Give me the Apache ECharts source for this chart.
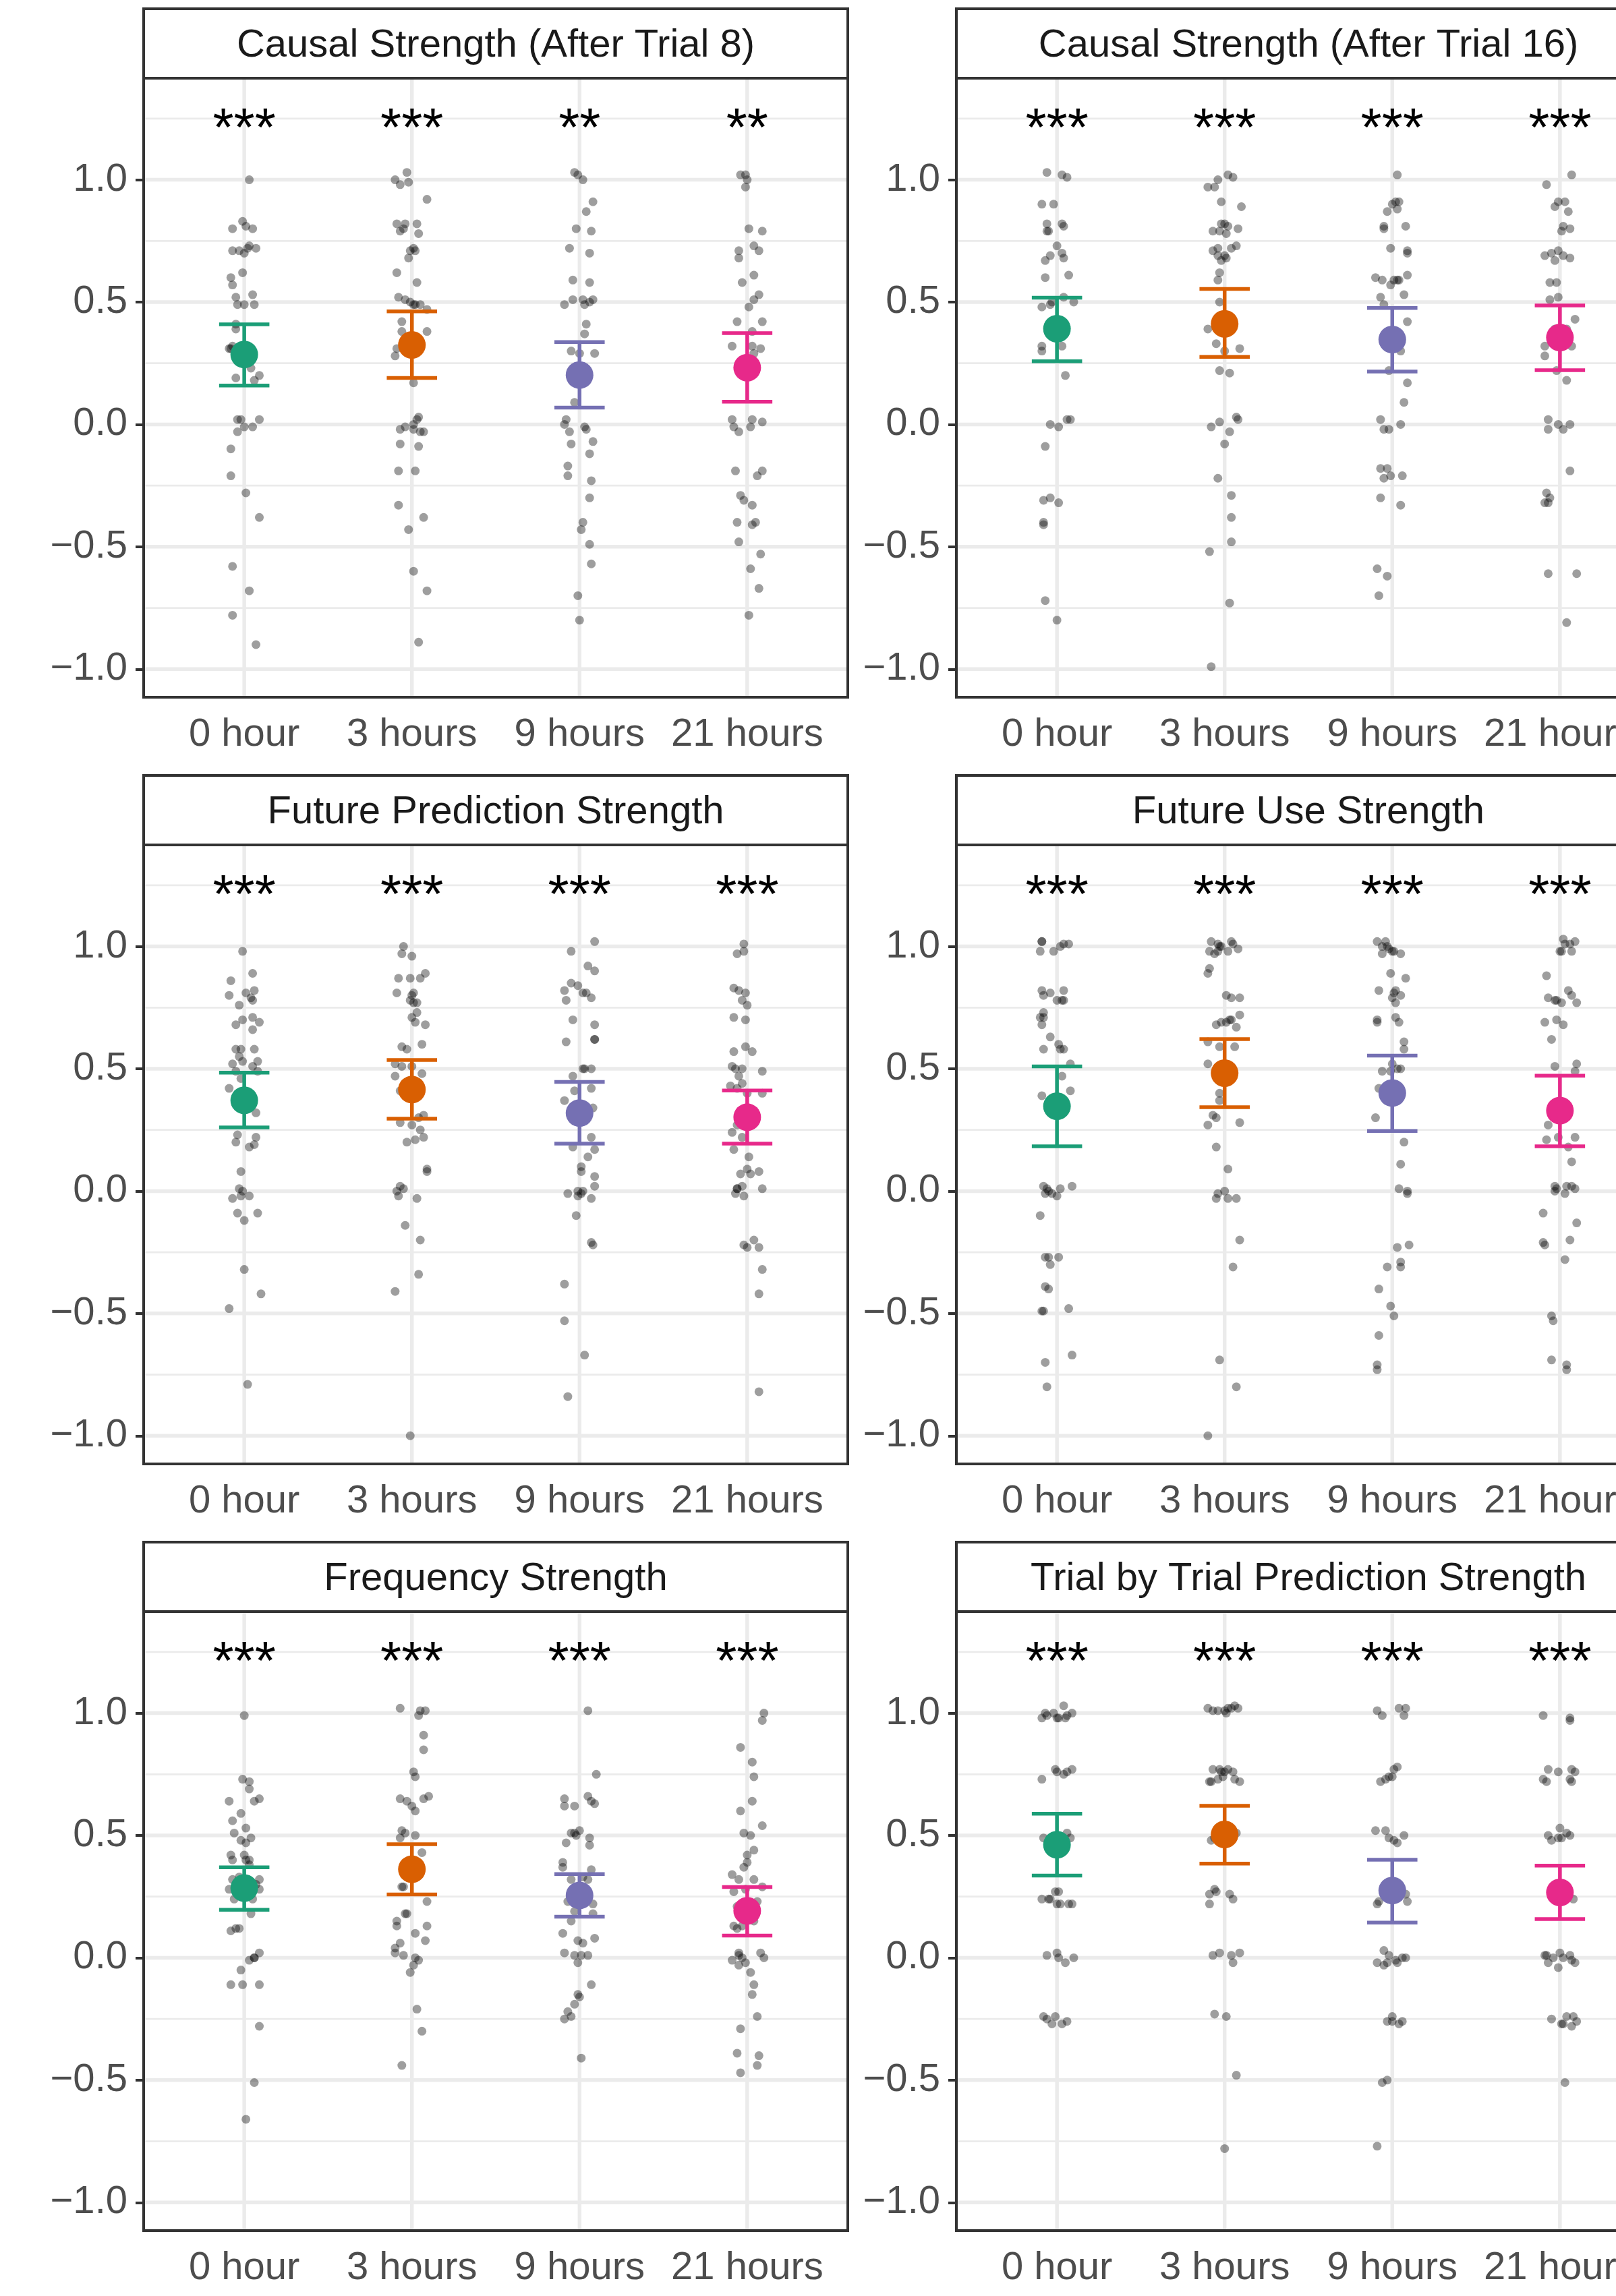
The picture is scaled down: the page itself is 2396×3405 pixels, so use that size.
<!DOCTYPE html>
<html><head><meta charset="utf-8">
<script src="https://cdn.jsdelivr.net/npm/echarts@6/dist/echarts.min.js"></script>
<style>html,body{margin:0;padding:0;background:#fff;overflow:hidden}#c{width:2396px;height:3405px}</style>
</head><body><div id="c"></div>
<script>
// ---------------- DATA ----------------
const categories = ['0 hour', '3 hours', '9 hours', '21 hours'];
const panelTitles = ['Causal Strength (After Trial 8)', 'Causal Strength (After Trial 16)', 'Future Prediction Strength', 'Future Use Strength', 'Frequency Strength', 'Trial by Trial Prediction Strength'];
const yTicks = [-1, -0.5, 0, 0.5, 1];
const yMinorTicks = [-0.75, -0.25, 0.25, 0.75, 1.25];
const palette = ['#1B9E77', '#D95F02', '#7570B3', '#E7298A'];

// jittered participant points: [horizontal jitter offset, value]
const c8_0h = [[0.03,1.00],[-0.01,0.83],[-0.07,0.80],[0.01,0.81],[0.05,0.80],[-0.07,0.71],[-0.03,0.71],[0,0.70],[0.02,0.72],[0.03,0.73],[0.07,0.72],[-0.01,0.62],[-0.08,0.60],[-0.07,0.57],[-0.05,0.52],[0.05,0.53],[-0.04,0.49],[0,0.49],[0.06,0.49],[-0.05,0.41],[-0.05,0.39],[-0.09,0.31],[-0.08,0.31],[-0.07,0.32],[0.04,0.23],[0.09,0.20],[-0.05,0.19],[0.06,0.18],[-0.04,0.02],[-0.02,0.02],[0.09,0.02],[0,-0.01],[0.05,-0.01],[-0.04,-0.03],[-0.08,-0.10],[-0.08,-0.21],[0.01,-0.28],[0.09,-0.38],[-0.07,-0.58],[0.03,-0.68],[-0.07,-0.78],[0.07,-0.90]];
const c8_3h = [[-0.03,1.03],[-0.10,1.00],[-0.07,0.98],[-0.02,0.99],[0.09,0.92],[-0.09,0.82],[-0.04,0.82],[0.03,0.82],[-0.07,0.79],[-0.05,0.80],[0.04,0.78],[-0.01,0.71],[0.01,0.72],[0.02,0.71],[-0.02,0.68],[-0.09,0.62],[0.03,0.58],[-0.08,0.52],[-0.04,0.51],[-0.01,0.50],[0.01,0.49],[0.02,0.49],[0.05,0.49],[0.09,0.47],[-0.06,0.42],[-0.06,0.38],[0.09,0.38],[-0.09,0.31],[-0.10,0.28],[0.01,0.17],[0.04,0.03],[0.03,0.02],[0.01,0.00],[-0.04,-0.01],[-0.07,-0.02],[0.01,-0.02],[0.05,-0.03],[0.07,-0.03],[-0.07,-0.08],[0.04,-0.09],[-0.08,-0.19],[0.02,-0.19],[-0.08,-0.33],[0.07,-0.38],[-0.02,-0.43],[0.01,-0.60],[0.09,-0.68],[0.04,-0.89]];
const c8_9h = [[-0.03,1.03],[-0.01,1.02],[0.02,1.00],[0.08,0.91],[0.04,0.87],[-0.02,0.80],[0.07,0.79],[-0.06,0.72],[0.06,0.70],[-0.04,0.59],[0.06,0.58],[-0.09,0.49],[-0.04,0.51],[0.02,0.51],[0.03,0.49],[0.06,0.50],[0.08,0.51],[0.04,0.41],[0.03,0.37],[-0.05,0.30],[0,0.29],[0.09,0.29],[-0.03,0.09],[-0.08,0.02],[-0.09,0.00],[-0.06,-0.03],[0.03,-0.01],[0.04,-0.02],[-0.05,-0.08],[0.08,-0.07],[0.06,-0.12],[-0.07,-0.17],[-0.07,-0.21],[0.07,-0.23],[0.06,-0.30],[0.02,-0.40],[0.01,-0.43],[0.06,-0.49],[0.07,-0.57],[-0.01,-0.70],[0,-0.80]];
const c8_21h = [[-0.04,1.02],[-0.01,1.02],[0,1.00],[-0.01,0.97],[0.01,0.80],[0.09,0.79],[-0.05,0.71],[-0.05,0.68],[0.04,0.73],[0.07,0.71],[0.04,0.61],[-0.03,0.58],[0.07,0.53],[0.04,0.51],[0.01,0.48],[0.09,0.42],[-0.06,0.42],[0.03,0.38],[-0.09,0.32],[0.03,0.32],[0.08,0.31],[0.04,0.29],[-0.09,0.02],[-0.08,-0.01],[-0.05,-0.03],[0.03,0.02],[0.09,0.01],[0.02,-0.01],[-0.07,-0.19],[0.09,-0.19],[0.06,-0.21],[-0.04,-0.29],[-0.02,-0.31],[0.03,-0.33],[0.05,-0.40],[-0.06,-0.40],[0.03,-0.41],[-0.05,-0.48],[0.08,-0.53],[0.02,-0.59],[0.07,-0.67],[0.01,-0.78]];

const c16_0h = [[-0.06,1.03],[0.03,1.02],[0.06,1.01],[-0.09,0.90],[-0.02,0.90],[-0.06,0.82],[0.03,0.82],[0.04,0.81],[-0.06,0.79],[-0.05,0.79],[0,0.73],[0.03,0.70],[0.04,0.68],[-0.07,0.67],[-0.04,0.69],[0.07,0.61],[-0.07,0.60],[0.04,0.52],[-0.03,0.50],[0.10,0.50],[-0.09,0.48],[-0.04,0.49],[0.03,0.32],[-0.09,0.32],[-0.09,0.30],[0.05,0.20],[0.06,0.02],[0.08,0.02],[-0.04,0.00],[0.01,-0.01],[-0.07,-0.09],[-0.08,-0.31],[-0.04,-0.30],[0.01,-0.32],[-0.08,-0.40],[-0.08,-0.41],[-0.07,-0.72],[0,-0.80]];
const c16_3h = [[0.02,1.02],[0.05,1.01],[-0.04,1.00],[-0.10,0.97],[-0.06,0.97],[-0.02,0.91],[0.10,0.89],[-0.02,0.82],[0,0.82],[0.02,0.81],[-0.07,0.79],[-0.03,0.79],[0.01,0.78],[0.08,0.80],[-0.07,0.71],[-0.04,0.72],[0.04,0.72],[0.07,0.73],[-0.04,0.69],[-0.02,0.67],[0,0.69],[0.01,0.68],[-0.03,0.62],[-0.04,0.59],[-0.03,0.50],[-0.10,0.39],[-0.05,0.33],[0,0.30],[0.09,0.31],[-0.03,0.22],[0.03,0.21],[0.07,0.03],[0.08,0.02],[-0.03,0.01],[-0.08,-0.01],[0.03,-0.03],[0,-0.08],[-0.04,-0.22],[0.04,-0.29],[0.04,-0.38],[0.04,-0.48],[-0.09,-0.52],[0.03,-0.73],[-0.08,-0.99]];
const c16_9h = [[0.03,1.02],[0,0.90],[0.02,0.91],[0.04,0.91],[-0.03,0.87],[0.03,0.88],[-0.05,0.81],[-0.05,0.80],[0.08,0.81],[-0.01,0.72],[0.09,0.71],[0.09,0.70],[-0.10,0.60],[-0.06,0.59],[-0.01,0.57],[0.01,0.59],[0.03,0.59],[0.04,0.59],[0.09,0.61],[-0.07,0.52],[0.07,0.53],[-0.05,0.49],[0.09,0.42],[0.05,0.30],[-0.02,0.22],[0.09,0.17],[0.07,0.09],[-0.07,0.02],[0.05,0.00],[-0.05,-0.02],[-0.02,-0.02],[-0.07,-0.18],[-0.03,-0.18],[-0.05,-0.22],[-0.01,-0.21],[0.06,-0.21],[-0.07,-0.30],[0.05,-0.33],[-0.09,-0.59],[-0.03,-0.62],[-0.08,-0.70]];
const c16_21h = [[0.07,1.02],[-0.08,0.98],[-0.01,0.91],[0.03,0.91],[-0.03,0.89],[0.05,0.87],[0.02,0.81],[0.06,0.80],[0.01,0.79],[-0.09,0.69],[-0.05,0.70],[-0.01,0.71],[0.02,0.69],[0.06,0.68],[-0.03,0.67],[-0.06,0.58],[-0.02,0.58],[-0.01,0.52],[-0.06,0.51],[0.09,0.43],[-0.03,0.39],[0.04,0.39],[-0.09,0.32],[0.07,0.32],[-0.09,0.28],[-0.02,0.22],[0.04,0.18],[-0.07,0.02],[-0.01,0.00],[0.06,0.00],[-0.07,-0.02],[0.02,-0.02],[0.06,-0.19],[-0.08,-0.28],[-0.06,-0.30],[-0.09,-0.32],[-0.07,-0.32],[-0.07,-0.61],[0.10,-0.61],[0.04,-0.81]];

const fp_0h = [[-0.01,0.98],[0.05,0.89],[-0.08,0.86],[0.01,0.81],[0.06,0.82],[-0.09,0.80],[0.04,0.79],[0.05,0.78],[-0.03,0.76],[-0.01,0.70],[0.05,0.71],[0.09,0.69],[-0.05,0.68],[0.05,0.66],[-0.05,0.58],[-0.02,0.58],[0.06,0.58],[-0.03,0.55],[-0.07,0.52],[-0.01,0.53],[0.08,0.53],[0.05,0.51],[-0.05,0.49],[0.08,0.49],[-0.02,0.46],[-0.09,0.42],[0.07,0.32],[-0.04,0.23],[0.07,0.22],[-0.05,0.20],[0.06,0.19],[0.03,0.18],[-0.02,0.08],[-0.03,0.01],[-0.01,0.00],[-0.07,-0.03],[-0.02,-0.02],[0.03,-0.02],[-0.04,-0.09],[0.08,-0.09],[0,-0.12],[0,-0.32],[0.10,-0.42],[-0.09,-0.48],[0.02,-0.79]];
const fp_3h = [[-0.05,1.00],[-0.06,0.97],[0,0.96],[0.08,0.89],[-0.08,0.87],[-0.01,0.87],[0.05,0.87],[0.01,0.81],[-0.09,0.81],[0,0.80],[-0.01,0.78],[0.01,0.77],[0.03,0.77],[0.03,0.73],[0,0.71],[0.08,0.68],[0.02,0.69],[-0.06,0.59],[-0.03,0.58],[0.06,0.60],[-0.10,0.52],[-0.06,0.51],[0,0.51],[0.06,0.48],[-0.10,0.47],[-0.07,0.41],[0.04,0.30],[0.07,0.31],[-0.07,0.28],[0,0.27],[0.05,0.25],[0.07,0.22],[0.02,0.21],[-0.03,0.20],[0.09,0.09],[0.09,0.08],[-0.07,0.02],[-0.05,0.01],[-0.09,0.00],[-0.08,-0.02],[0.03,-0.03],[-0.04,-0.14],[0.05,-0.20],[0.04,-0.34],[-0.10,-0.41],[-0.01,-1.00]];
const fp_9h = [[0.09,1.02],[-0.05,0.98],[0.05,0.92],[0.09,0.90],[-0.05,0.85],[-0.01,0.84],[-0.09,0.82],[0.02,0.81],[0.04,0.81],[0.07,0.79],[-0.08,0.78],[-0.04,0.70],[0.09,0.68],[-0.08,0.61],[0.09,0.62],[0.09,0.62],[0.02,0.50],[0.07,0.50],[0.03,0.50],[-0.04,0.47],[0.07,0.42],[-0.03,0.41],[-0.09,0.37],[0.08,0.34],[-0.03,0.29],[0.07,0.22],[0.09,0.17],[-0.04,0.18],[0.05,0.14],[0.01,0.10],[0.01,0.08],[0.09,0.06],[0.09,0.02],[-0.01,0.00],[0.02,0.00],[-0.07,-0.01],[-0.01,-0.02],[0.01,-0.01],[0.07,-0.03],[-0.02,-0.10],[0.07,-0.21],[0.08,-0.22],[-0.09,-0.38],[-0.09,-0.53],[0.03,-0.67],[-0.07,-0.84]];
const fp_21h = [[-0.02,1.01],[-0.06,0.97],[-0.02,0.98],[-0.08,0.83],[-0.05,0.82],[-0.01,0.81],[-0.03,0.78],[0,0.76],[-0.08,0.71],[-0.01,0.70],[-0.01,0.59],[-0.08,0.57],[0.03,0.57],[-0.09,0.51],[-0.07,0.50],[-0.03,0.50],[0.09,0.49],[-0.05,0.47],[-0.10,0.43],[-0.03,0.44],[-0.06,0.42],[0,0.40],[0.09,0.40],[-0.06,0.27],[-0.09,0.24],[-0.03,0.22],[-0.08,0.17],[0.01,0.14],[0,0.09],[0.02,0.07],[-0.04,0.07],[0.07,0.08],[-0.06,0.01],[-0.06,0.01],[-0.03,0.02],[-0.07,-0.01],[0.09,0.01],[-0.02,-0.02],[0.04,-0.20],[-0.02,-0.22],[0,-0.23],[0.07,-0.23],[0.09,-0.32],[0.07,-0.42],[0.07,-0.82]];

const fu_0h = [[-0.09,1.02],[-0.09,1.02],[-0.10,0.98],[-0.02,0.98],[0.02,1.00],[0.04,1.01],[0.07,1.01],[-0.09,0.82],[-0.04,0.81],[0.04,0.82],[-0.08,0.80],[0,0.78],[0.03,0.78],[0.04,0.78],[-0.08,0.73],[-0.10,0.71],[-0.08,0.71],[-0.09,0.68],[-0.04,0.63],[0.01,0.60],[0.02,0.58],[0.04,0.58],[-0.08,0.58],[0.08,0.52],[0.03,0.47],[0.08,0.41],[-0.09,0.39],[-0.08,0.02],[-0.06,0.01],[-0.05,0.00],[0.02,0.01],[0.09,0.02],[-0.07,-0.01],[-0.03,-0.01],[0,-0.02],[-0.10,-0.10],[-0.07,-0.27],[-0.05,-0.27],[0.01,-0.27],[-0.04,-0.30],[-0.07,-0.39],[-0.05,-0.40],[-0.09,-0.49],[-0.08,-0.49],[0.07,-0.48],[0.09,-0.67],[-0.07,-0.70],[-0.06,-0.80]];
const fu_3h = [[-0.08,1.02],[-0.04,1.01],[-0.02,1.00],[0.04,1.02],[0.05,1.01],[-0.03,1.00],[-0.09,0.98],[-0.06,0.97],[-0.04,0.98],[0.02,0.98],[0.08,0.99],[-0.09,0.91],[-0.10,0.89],[0.01,0.80],[0.04,0.79],[0.09,0.79],[0.09,0.72],[0.04,0.70],[0.01,0.69],[0.03,0.70],[-0.02,0.69],[-0.05,0.68],[0.07,0.67],[-0.10,0.61],[-0.03,0.59],[0.06,0.59],[-0.10,0.52],[-0.03,0.40],[-0.03,0.37],[0.09,0.28],[-0.07,0.31],[-0.05,0.30],[-0.10,0.27],[-0.05,0.18],[0.02,0.09],[0,0.00],[-0.04,-0.01],[-0.05,-0.03],[0.02,-0.03],[0.07,-0.03],[0.09,-0.20],[0.05,-0.31],[-0.03,-0.69],[0.07,-0.80],[-0.10,-1.00]];
const fu_9h = [[-0.09,1.02],[-0.04,1.02],[-0.06,1.00],[-0.03,1.00],[-0.06,0.97],[-0.02,0.99],[0,0.98],[0.01,0.98],[0.05,0.97],[-0.01,0.89],[0.08,0.87],[-0.08,0.82],[0.01,0.81],[0.02,0.82],[0.05,0.80],[0,0.79],[0.02,0.77],[-0.09,0.70],[-0.09,0.69],[0.02,0.71],[0.04,0.69],[0.07,0.61],[0.07,0.58],[0,0.52],[-0.06,0.49],[-0.01,0.49],[0.03,0.50],[0.05,0.50],[-0.08,0.42],[-0.10,0.30],[0.07,0.20],[0.05,0.11],[0.04,0.01],[0.09,0.00],[0.09,-0.01],[0.03,-0.23],[0.10,-0.22],[0.05,-0.29],[0.05,-0.31],[-0.03,-0.31],[-0.08,-0.40],[-0.01,-0.47],[0.01,-0.51],[-0.08,-0.59],[-0.09,-0.71],[-0.09,-0.73]];
const fu_21h = [[0.02,1.03],[0.03,1.01],[0.06,1.01],[0.09,1.02],[0,0.98],[0.01,0.98],[0.07,0.98],[-0.08,0.88],[0.05,0.82],[0.07,0.80],[-0.07,0.79],[-0.03,0.78],[-0.02,0.78],[0.01,0.77],[0.10,0.77],[-0.09,0.69],[-0.02,0.70],[0.02,0.68],[-0.05,0.62],[-0.03,0.51],[0.10,0.52],[0.09,0.49],[-0.07,0.27],[-0.08,0.21],[-0.01,0.22],[0.09,0.22],[0.05,0.18],[0.07,0.12],[-0.03,0.02],[-0.02,0.01],[0.04,0.02],[0.07,0.02],[0.09,0.01],[-0.03,0.00],[0.03,-0.01],[-0.10,-0.09],[0.10,-0.13],[-0.10,-0.21],[-0.09,-0.22],[0.06,-0.20],[0.03,-0.28],[-0.05,-0.51],[-0.04,-0.53],[-0.05,-0.69],[0.04,-0.71],[0.04,-0.73]];

const fr_0h = [[0,0.99],[-0.01,0.73],[0.03,0.72],[0.03,0.69],[-0.09,0.64],[0.09,0.65],[0.06,0.64],[-0.02,0.59],[-0.07,0.56],[0.01,0.53],[-0.06,0.51],[-0.02,0.48],[0.04,0.49],[0.01,0.47],[-0.08,0.42],[0,0.42],[-0.07,0.40],[0.01,0.40],[0.03,0.40],[0.03,0.38],[-0.07,0.32],[-0.03,0.33],[0.09,0.32],[0.07,0.30],[-0.09,0.28],[0.09,0.28],[-0.06,0.24],[0.05,0.24],[0.04,0.18],[-0.08,0.11],[-0.05,0.12],[-0.03,0.12],[0.06,0.00],[0.09,0.02],[0.03,-0.01],[0.06,0.00],[-0.02,-0.05],[-0.08,-0.11],[-0.01,-0.11],[0.09,-0.11],[0.09,-0.28],[0.06,-0.51],[0.01,-0.66]];
const fr_3h = [[-0.07,1.02],[0.04,0.99],[0.05,1.01],[0.08,1.01],[0.07,0.91],[0.07,0.85],[0.01,0.76],[0.02,0.74],[-0.07,0.65],[-0.03,0.64],[0.07,0.65],[0.10,0.66],[0,0.62],[0.02,0.60],[-0.06,0.52],[-0.04,0.51],[0.02,0.50],[-0.07,0.49],[0.06,0.43],[-0.06,0.29],[-0.05,0.29],[0.09,0.23],[-0.04,0.18],[-0.03,0.18],[-0.09,0.15],[-0.09,0.13],[0.09,0.13],[0.02,0.10],[-0.07,0.06],[-0.10,0.04],[0.08,0.07],[-0.10,0.02],[-0.05,0.01],[0.02,0.00],[0.04,-0.01],[0.01,-0.03],[-0.01,-0.06],[0.03,-0.21],[0.06,-0.30],[-0.06,-0.44]];
const fr_9h = [[0.05,1.01],[0.10,0.75],[-0.09,0.65],[0.05,0.66],[-0.09,0.62],[-0.03,0.62],[0.07,0.64],[0.09,0.63],[-0.05,0.51],[-0.02,0.50],[0,0.52],[-0.03,0.51],[-0.08,0.47],[0.06,0.49],[0.06,0.46],[-0.10,0.39],[-0.10,0.37],[-0.05,0.32],[0.07,0.36],[0.02,0.33],[0.05,0.32],[-0.07,0.23],[0.08,0.22],[-0.03,0.19],[0.08,0.18],[-0.05,0.15],[-0.10,0.10],[-0.01,0.07],[0.02,0.06],[0.09,0.08],[-0.09,0.02],[-0.03,0.01],[0.01,0.01],[0.05,0.01],[-0.01,-0.02],[0.07,-0.11],[-0.01,-0.15],[0,-0.16],[-0.03,-0.19],[-0.07,-0.22],[-0.05,-0.24],[-0.09,-0.25],[0.01,-0.41]];
const fr_21h = [[0.10,1.00],[0.09,0.97],[-0.04,0.86],[0.03,0.80],[0.04,0.74],[0.03,0.64],[-0.04,0.60],[-0.02,0.51],[0.02,0.50],[0.09,0.54],[0.04,0.44],[0,0.42],[0,0.39],[-0.02,0.37],[-0.09,0.34],[-0.05,0.32],[0.04,0.32],[0.09,0.29],[-0.08,0.27],[-0.01,0.28],[-0.06,0.21],[0.06,0.23],[-0.08,0.13],[0.04,0.15],[-0.06,0.12],[-0.03,0.13],[-0.05,0.02],[-0.09,-0.01],[-0.05,0.01],[-0.01,-0.02],[-0.03,0.00],[0.08,0.02],[0.10,0.00],[-0.05,-0.03],[0.02,-0.06],[0.04,-0.11],[0.03,-0.15],[0.06,-0.24],[-0.04,-0.29],[-0.06,-0.39],[0.07,-0.40],[0.06,-0.44],[-0.04,-0.47]];

const tt_0h = [[-0.09,0.98],[-0.07,1.00],[-0.06,0.99],[-0.02,1.00],[0,0.98],[0.01,0.98],[0.04,1.03],[0.05,0.98],[0.06,0.99],[0.09,1.00],[-0.09,0.73],[-0.01,0.77],[0,0.76],[0.04,0.75],[0.06,0.76],[0.09,0.77],[-0.08,0.49],[0,0.50],[0.06,0.51],[0.08,0.49],[-0.09,0.24],[-0.05,0.24],[-0.04,0.24],[-0.01,0.27],[0.01,0.27],[0,0.22],[0.02,0.22],[0.07,0.22],[0.09,0.22],[-0.06,0.01],[0,0.02],[0.01,0.00],[0.05,-0.02],[0.10,0.00],[-0.08,-0.24],[-0.06,-0.25],[-0.01,-0.24],[-0.03,-0.27],[0.03,-0.27],[0.06,-0.26]];
const tt_3h = [[-0.10,1.02],[-0.07,1.01],[-0.04,1.01],[0,1.01],[0.02,1.02],[0.04,1.02],[0.06,1.03],[0.08,1.02],[0.01,1.00],[-0.09,0.72],[-0.07,0.77],[-0.03,0.77],[-0.02,0.76],[-0.01,0.74],[0,0.76],[0.02,0.77],[0.05,0.76],[0.06,0.73],[0.09,0.72],[-0.08,0.72],[-0.04,0.73],[-0.08,0.48],[0.07,0.51],[-0.06,0.49],[-0.09,0.22],[-0.09,0.26],[-0.06,0.28],[-0.05,0.27],[0.03,0.26],[0.05,0.24],[-0.07,0.01],[-0.03,0.02],[0.05,-0.02],[0.04,0.01],[0.09,0.02],[-0.06,-0.23],[0.01,-0.24],[0.07,-0.48],[0,-0.78]];
const tt_9h = [[-0.09,1.01],[-0.06,0.99],[0.04,1.02],[0.08,1.02],[0.07,0.99],[-0.07,0.72],[-0.04,0.73],[-0.02,0.74],[0,0.74],[0.03,0.78],[0.01,0.77],[-0.10,0.52],[-0.04,0.52],[-0.02,0.49],[0.01,0.48],[0.03,0.47],[0.07,0.50],[-0.09,0.22],[-0.08,0.23],[0.09,0.23],[0.08,0.26],[-0.09,-0.02],[-0.05,0.03],[-0.03,-0.02],[-0.02,0.01],[0.02,-0.01],[0.03,-0.02],[0.06,0.00],[0.08,0.00],[-0.05,-0.03],[-0.03,-0.26],[0,-0.24],[0,-0.26],[0.04,-0.27],[0.06,-0.26],[-0.06,-0.51],[-0.03,-0.50],[-0.09,-0.77]];
const tt_21h = [[-0.10,0.99],[0.06,0.98],[0.06,0.97],[-0.10,0.73],[-0.08,0.72],[-0.07,0.77],[-0.01,0.76],[0.06,0.73],[0.07,0.77],[0.09,0.76],[0.07,0.72],[-0.07,0.50],[-0.05,0.48],[0,0.53],[0.01,0.49],[0.04,0.51],[0.06,0.50],[-0.01,0.49],[0.08,0.24],[-0.08,0.01],[-0.07,-0.02],[-0.04,0.00],[-0.01,-0.04],[0,0.02],[0.02,0.00],[0.06,0.01],[0.07,-0.01],[0.09,-0.02],[-0.09,0.01],[-0.05,-0.25],[0.01,-0.27],[0.02,-0.27],[0.04,-0.24],[0.07,-0.28],[0.08,-0.24],[0.10,-0.26],[0.03,-0.51]];

// group means and error bar limits
const c8Mean = [0.286, 0.325, 0.202, 0.232];
const c8Lower = [0.159, 0.190, 0.069, 0.093];
const c8Upper = [0.409, 0.462, 0.337, 0.373];
const c8Stars = ['***', '***', '**', '**'];
const c16Mean = [0.391, 0.411, 0.347, 0.355];
const c16Lower = [0.258, 0.276, 0.216, 0.222];
const c16Upper = [0.518, 0.554, 0.476, 0.486];
const c16Stars = ['***', '***', '***', '***'];
const fpMean = [0.371, 0.415, 0.319, 0.302];
const fpLower = [0.260, 0.296, 0.194, 0.194];
const fpUpper = [0.484, 0.536, 0.446, 0.411];
const fpStars = ['***', '***', '***', '***'];
const fuMean = [0.347, 0.482, 0.401, 0.329];
const fuLower = [0.183, 0.343, 0.246, 0.183];
const fuUpper = [0.510, 0.621, 0.554, 0.472];
const fuStars = ['***', '***', '***', '***'];
const frMean = [0.285, 0.362, 0.255, 0.192];
const frLower = [0.196, 0.259, 0.168, 0.091];
const frUpper = [0.370, 0.464, 0.342, 0.289];
const frStars = ['***', '***', '***', '***'];
const ttMean = [0.462, 0.504, 0.275, 0.267];
const ttLower = [0.336, 0.385, 0.144, 0.158];
const ttUpper = [0.589, 0.621, 0.401, 0.377];
const ttStars = ['***', '***', '***', '***'];
const starLevel = 1.2;

// ---------------- BUILD ----------------
const panels = [
  { pts: [c8_0h, c8_3h, c8_9h, c8_21h], mean: c8Mean, lo: c8Lower, hi: c8Upper, stars: c8Stars },
  { pts: [c16_0h, c16_3h, c16_9h, c16_21h], mean: c16Mean, lo: c16Lower, hi: c16Upper, stars: c16Stars },
  { pts: [fp_0h, fp_3h, fp_9h, fp_21h], mean: fpMean, lo: fpLower, hi: fpUpper, stars: fpStars },
  { pts: [fu_0h, fu_3h, fu_9h, fu_21h], mean: fuMean, lo: fuLower, hi: fuUpper, stars: fuStars },
  { pts: [fr_0h, fr_3h, fr_9h, fr_21h], mean: frMean, lo: frLower, hi: frUpper, stars: frStars },
  { pts: [tt_0h, tt_3h, tt_9h, tt_21h], mean: ttMean, lo: ttLower, hi: ttUpper, stars: ttStars }
];

const FONT = '"Liberation Sans", Arial, Helvetica, sans-serif';
const colLeft = [213, 1418], rowTop = [116, 1253, 2390];
const panelW = 1044, panelH = 918, stripH = 103;
const X_MIN = 0.4, X_MAX = 4.6, Y_MIN = -1.115, Y_MAX = 1.415;

const grids = [], xAxes = [], yAxes = [], series = [], graphics = [];

function fmtY(v) { return (v < 0 ? '\u2212' : '') + Math.abs(v).toFixed(1); }

panels.forEach((p, i) => {
  const left = colLeft[i % 2], top = rowTop[Math.floor(i / 2)];
  grids.push({ left: left, top: top, width: panelW, height: panelH, containLabel: false, outerBoundsMode: 'none' });
  xAxes.push({
    gridIndex: i, type: 'value', min: X_MIN, max: X_MAX,
    splitLine: { show: false }, axisLine: { show: false },
    axisTick: { show: true, customValues: [1, 2, 3, 4], length: 14, lineStyle: { color: '#333333', width: 4 } },
    axisLabel: { customValues: [1, 2, 3, 4], formatter: v => categories[Math.round(v) - 1] || '', fontSize: 58, color: '#4d4d4d', margin: 27, fontFamily: FONT, hideOverlap: false }
  });
  yAxes.push({
    gridIndex: i, type: 'value', min: Y_MIN, max: Y_MAX,
    splitLine: { show: false }, axisLine: { show: false },
    axisTick: { show: true, customValues: yTicks, length: 12, lineStyle: { color: '#333333', width: 4 } },
    axisLabel: { customValues: yTicks, formatter: fmtY, fontSize: 58, color: '#4d4d4d', margin: 24, fontFamily: FONT }
  });
  const hLine = (w) => (params, api) => {
    const a = api.coord([X_MIN, api.value(1)]), b = api.coord([X_MAX, api.value(1)]);
    return { type: 'line', shape: { x1: a[0], y1: a[1], x2: b[0], y2: b[1] }, style: { stroke: '#ebebeb', lineWidth: w } };
  };
  series.push({ type: 'custom', xAxisIndex: i, yAxisIndex: i, silent: true, z: 1, renderItem: hLine(2.8), data: yMinorTicks.map(v => [X_MIN, v]) });
  series.push({ type: 'custom', xAxisIndex: i, yAxisIndex: i, silent: true, z: 1, renderItem: hLine(5.5), data: yTicks.map(v => [X_MIN, v]) });
  series.push({
    type: 'custom', xAxisIndex: i, yAxisIndex: i, silent: true, z: 1,
    renderItem: (params, api) => {
      const a = api.coord([api.value(0), Y_MIN]), b = api.coord([api.value(0), Y_MAX]);
      return { type: 'line', shape: { x1: a[0], y1: a[1], x2: b[0], y2: b[1] }, style: { stroke: '#ebebeb', lineWidth: 5.5 } };
    },
    data: categories.map((c, k) => [k + 1, 0])
  });
  // jittered points
  const ptsData = [];
  p.pts.forEach((arr, k) => arr.forEach(d => ptsData.push([k + 1 + d[0], d[1]])));
  series.push({ type: 'scatter', xAxisIndex: i, yAxisIndex: i, silent: true, z: 2, symbolSize: 13, itemStyle: { color: 'rgba(0,0,0,0.38)', opacity: 1 }, data: ptsData });
  // error bars
  series.push({
    type: 'custom', xAxisIndex: i, yAxisIndex: i, silent: true, z: 3,
    renderItem: (params, api) => {
      const x = api.value(0), lo = api.value(1), hi = api.value(2), col = palette[api.value(3)];
      const pl = api.coord([x, lo]), ph = api.coord([x, hi]);
      const half = api.size([0.15, 0])[0];
      const st = { stroke: col, lineWidth: 5.5 };
      return { type: 'group', children: [
        { type: 'line', shape: { x1: pl[0], y1: pl[1], x2: ph[0], y2: ph[1] }, style: st },
        { type: 'line', shape: { x1: pl[0] - half, y1: pl[1], x2: pl[0] + half, y2: pl[1] }, style: st },
        { type: 'line', shape: { x1: ph[0] - half, y1: ph[1], x2: ph[0] + half, y2: ph[1] }, style: st }
      ] };
    },
    data: p.mean.map((m, k) => [k + 1, p.lo[k], p.hi[k], k])
  });
  // means
  series.push({ type: 'scatter', xAxisIndex: i, yAxisIndex: i, silent: true, z: 4, symbolSize: 41,
    data: p.mean.map((m, k) => ({ value: [k + 1, m], itemStyle: { color: palette[k], opacity: 1 } })) });
  // significance stars
  series.push({ type: 'scatter', xAxisIndex: i, yAxisIndex: i, silent: true, z: 5, symbolSize: 2, itemStyle: { color: 'rgba(0,0,0,0)', opacity: 1 },
    label: { show: true, position: 'inside', formatter: '{b}', fontSize: 80, color: '#000000', fontFamily: FONT },
    labelLayout: { hideOverlap: false },
    data: p.stars.map((s, k) => ({ name: s, value: [k + 1, starLevel] })) });

  // strip and panel frame
  graphics.push({ type: 'rect', z: 100, shape: { x: left, y: top - stripH, width: panelW, height: stripH }, style: { fill: '#ffffff', stroke: '#333333', lineWidth: 4 } });
  graphics.push({ type: 'text', z: 101, x: left + panelW / 2, y: top - stripH / 2 + 3, style: { text: panelTitles[i], fontSize: 58, fontFamily: FONT, fill: '#1a1a1a', align: 'center', verticalAlign: 'middle' } });
  graphics.push({ type: 'rect', z: 100, shape: { x: left, y: top, width: panelW, height: panelH }, style: { fill: 'none', stroke: '#333333', lineWidth: 4 } });
});

const chart = echarts.init(document.getElementById('c'), null, { renderer: 'canvas', width: 2396, height: 3405 });
chart.setOption({
  animation: false,
  backgroundColor: '#ffffff',
  textStyle: { fontFamily: FONT },
  grid: grids, xAxis: xAxes, yAxis: yAxes, series: series, graphic: graphics
});
</script>
</body></html>
